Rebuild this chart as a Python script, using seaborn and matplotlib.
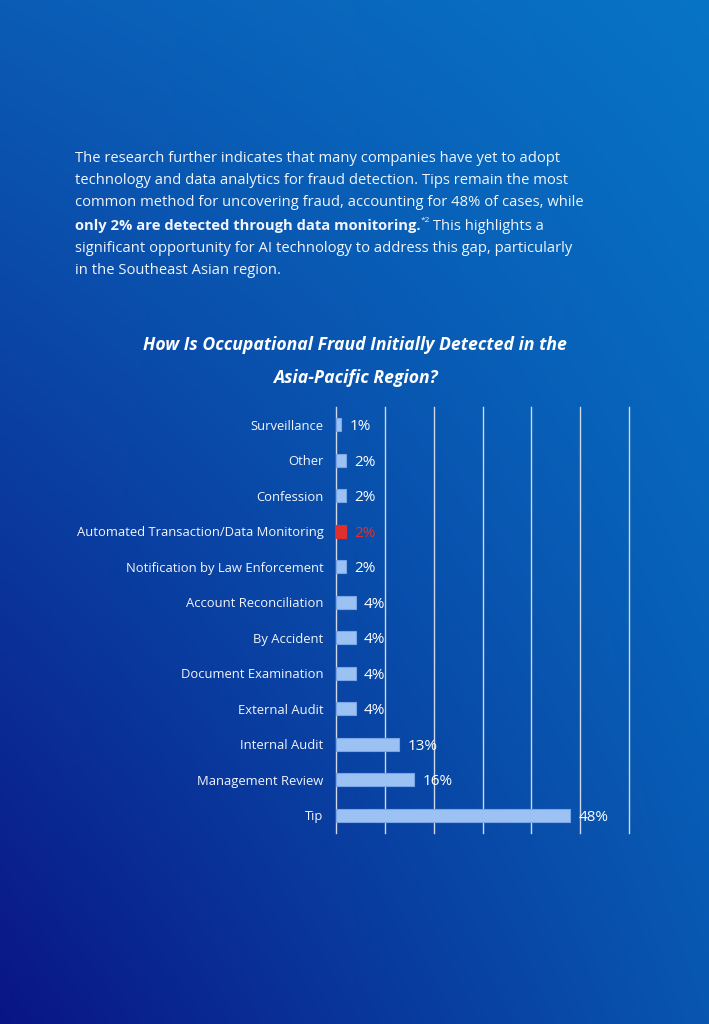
import matplotlib
matplotlib.use("Agg")
import matplotlib.pyplot as plt
import numpy as np
import pandas as pd
import seaborn as sns

# chart data
categories = ["Surveillance", "Other", "Confession",
              "Automated Transaction/Data Monitoring",
              "Notification by Law Enforcement", "Account Reconciliation",
              "By Accident", "Document Examination", "External Audit",
              "Internal Audit", "Management Review", "Tip"]
values = [1, 2, 2, 2, 2, 4, 4, 4, 4, 13, 16, 48]
highlight = "Automated Transaction/Data Monitoring"
x_ticks = [0, 10, 20, 30, 40, 50, 60]

title_lines = ["How Is Occupational Fraud Initially Detected in the",
               "Asia-Pacific Region?"]
para_lines = ["The research further indicates that many companies have yet to adopt",
              "technology and data analytics for fraud detection. Tips remain the most",
              "common method for uncovering fraud, accounting for 48% of cases, while",
              None,
              "significant opportunity for AI technology to address this gap, particularly",
              "in the Southeast Asian region."]
bold_part = "only 2% are detected through data monitoring."
sup_part = "*2"
rest_part = " This highlights a"

bar_col = "#9CC2F4"
bar_edge = "#7AA5E6"
red_col = "#E0302E"
txt_col = "#F2F5FB"

W, H = 709, 1024
plt.rcParams['font.family'] = ['Open Sans', 'DejaVu Sans']
fig = plt.figure(figsize=(W / 100, H / 100), dpi=100)

# gradient background (bilinear between the four corners)
bg = fig.add_axes([0, 0, 1, 1], zorder=0)
tl = np.array([11, 92, 181]) / 255
tr = np.array([7, 116, 197]) / 255
bl = np.array([10, 21, 133]) / 255
br = np.array([8, 86, 176]) / 255
u = np.linspace(0, 1, 200)[None, :, None]
v = np.linspace(0, 1, 300)[:, None, None]
grad = (1 - v) * ((1 - u) * tl + u * tr) + v * ((1 - u) * bl + u * br)
bg.imshow(np.clip(grad, 0, 1), extent=[0, 1, 0, 1], interpolation='bilinear', aspect='auto')
bg.set_axis_off()

# paragraph
x0 = 75 / W
line_y = [158, 181, 203, 226, 248, 271]
para_size = 10.6
for ln, yy in zip(para_lines, line_y):
    if ln is not None:
        fig.text(x0, 1 - yy / H, ln, fontsize=para_size, color=txt_col, va='center', ha='left')

renderer = fig.canvas.get_renderer()
yb = 1 - line_y[3] / H
t1 = fig.text(x0, yb, bold_part, fontsize=para_size, color=txt_col, weight='bold', va='center', ha='left')
w1 = t1.get_window_extent(renderer).width / W
t2 = fig.text(x0 + w1, yb + 5 / H, sup_part, fontsize=6, color=txt_col, va='center', ha='left')
w2 = t2.get_window_extent(renderer).width / W - 1 / W
fig.text(x0 + w1 + w2, yb, rest_part, fontsize=para_size, color=txt_col, va='center', ha='left')

# title
for ln, yy in zip(title_lines, [345, 378]):
    fig.text(355 / W, 1 - yy / H, ln, fontsize=12.7, color='white', style='italic',
             weight='bold', ha='center', va='center')

# bar chart
ax = fig.add_axes([336 / W, 1 - 833 / H, 293 / W, 426 / H], zorder=1)
ax.set_facecolor('none')
df = pd.DataFrame({"method": categories, "pct": values})
palette = {c: (red_col if c == highlight else bar_col) for c in categories}
sns.barplot(data=df, x="pct", y="method", hue="method", palette=palette, legend=False,
            orient='h', width=0.37, ax=ax, zorder=3, edgecolor=bar_edge, linewidth=0.8,
            saturation=1)
for p, c in zip(ax.patches, categories):
    if c == highlight:
        p.set_edgecolor(red_col)

ax.set_xlim(0, 60)
ax.set_ylim(len(categories) - 0.5, -0.5)
ax.set_xticks(x_ticks)
ax.set_xticklabels([])
ax.tick_params(axis='x', length=0)
ax.tick_params(axis='y', length=0, pad=9, labelsize=9.4, labelcolor=txt_col)
ax.grid(False)
for t in x_ticks:
    ax.axvline(t, color='#D0D7E6', linewidth=1.0, zorder=0, clip_on=False)
for s in ax.spines.values():
    s.set_visible(False)
ax.set_xlabel("")
ax.set_ylabel("")

for i, (c, v) in enumerate(zip(categories, values)):
    ax.annotate(f"{v}%", xy=(v, i), xytext=(6, -1.5), textcoords='offset points',
                ha='left', va='center', fontsize=11,
                color=(red_col if c == highlight else 'white'), zorder=4)

fig.savefig("out.png", dpi=100)
